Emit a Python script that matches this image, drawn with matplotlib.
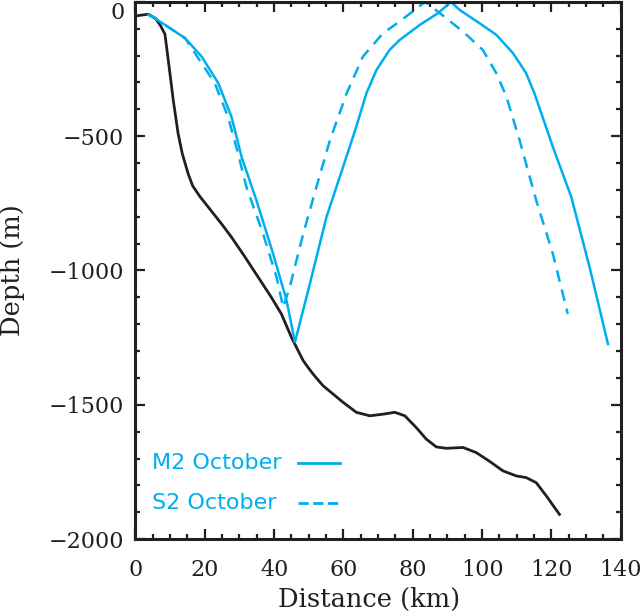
import numpy as np
import matplotlib
matplotlib.use("Agg")
import matplotlib.pyplot as plt
from matplotlib.ticker import MultipleLocator

# bathymetry (distance km, depth m)
bathy_x = [0.3, 3.7, 5.8, 7.2, 8.5, 9.7, 10.9, 12.3, 13.5, 15.2, 16.5, 18.6,
           21.0, 24.8, 27.7, 31.6, 35.4, 39.2, 42.1, 45.0, 46.9, 48.4, 49.8,
           51.2, 54.1, 57.0, 59.9, 63.7, 67.6, 71.4, 74.8, 77.7, 81.0, 83.9,
           86.8, 89.7, 94.5, 98.3, 102.2, 106.0, 109.9, 112.7, 115.6, 118.5, 122.3]
bathy_y = [-52, -46, -62, -88, -120, -241, -366, -490, -565, -640, -685, -725,
           -764, -826, -876, -950, -1025, -1100, -1162, -1249, -1298, -1336, -1361,
           -1385, -1429, -1460, -1491, -1528, -1541, -1535, -1528, -1541, -1585, -1628,
           -1657, -1662, -1659, -1678, -1711, -1746, -1765, -1771, -1790, -1839, -1908]

# M2 October ray path
m2_x = [3.7, 5.6, 14.3, 19.1, 23.9, 27.7, 30.6, 34.9, 39.7, 43.6, 46.0,
        50.3, 55.1, 59.9, 63.7, 66.6, 69.5, 73.3, 76.2, 82.0, 87.3, 91.0,
        93.5, 99.3, 104.1, 108.9, 112.7, 115.1, 120.4, 125.7, 131.0, 136.3]
m2_y = [-48, -61, -135, -204, -303, -428, -577, -739, -938, -1112, -1267,
        -1050, -801, -614, -465, -341, -254, -179, -142, -86, -42, 0,
        -30, -80, -123, -191, -266, -341, -540, -726, -988, -1274]

# S2 October ray path
s2_x = [3.7, 5.6, 14.3, 19.1, 22.9, 26.7, 29.6, 32.0, 36.8, 40.7, 42.6,
        44.5, 48.4, 52.2, 56.1, 60.9, 65.6, 71.4, 76.2, 83.6,
        87.8, 94.5, 100.2, 104.1, 107.0, 110.8, 115.6, 120.4, 124.7]
s2_y = [-48, -61, -135, -229, -303, -428, -565, -689, -863, -1025, -1137,
        -1062, -863, -689, -515, -341, -204, -117, -73, 0,
        -42, -111, -179, -266, -353, -515, -739, -938, -1162]

cyan = "#00aeef"
black = "#231f20"
dash = (0, (4.7, 3.2))

fig = plt.figure(figsize=(6.42, 6.14), dpi=100)
ax = fig.add_axes([0.211, 0.122, 0.756, 0.875])

ax.plot(bathy_x, bathy_y, color=black, lw=2.0)
m2_line, = ax.plot(m2_x, m2_y, color=cyan, lw=1.8, label="M2 October")
s2_line, = ax.plot(s2_x, s2_y, color=cyan, lw=1.8, ls=dash, label="S2 October")

ax.set_xlim(0, 140)
ax.set_ylim(-2000, 0)
ax.xaxis.set_major_locator(MultipleLocator(20))
ax.xaxis.set_minor_locator(MultipleLocator(5))
ax.yaxis.set_major_locator(MultipleLocator(500))
ax.yaxis.set_minor_locator(MultipleLocator(100))

for s in ax.spines.values():
    s.set_linewidth(2.2)
    s.set_color(black)
ax.tick_params(which="both", direction="in", top=True, right=True,
               width=1.6, color=black)
ax.tick_params(which="major", length=7, labelsize=16)
ax.tick_params(axis="y", which="major", pad=8)
ax.tick_params(axis="x", which="major", pad=14)
ax.tick_params(which="minor", length=3.5)
for lab in ax.get_xticklabels() + ax.get_yticklabels():
    lab.set_family("DejaVu Serif")
    lab.set_color(black)

ax.set_xlabel("Distance (km)", family="DejaVu Serif", fontsize=18.5, color=black)
ax.set_ylabel("Depth (m)", family="DejaVu Serif", fontsize=18.5, color=black)
ax.xaxis.set_label_coords(0.481, -0.089)
ax.yaxis.set_label_coords(-0.228, 0.5)

fig.canvas.draw()
for t in ax.yaxis.get_major_ticks():
    if abs(t.get_loc()) < 1e-6:
        t.label1.set_verticalalignment("top")

# legend: label text first, line sample to its right
for line, ypos in [(m2_line, 0.1415), (s2_line, 0.067)]:
    ax.text(0.034, ypos, line.get_label(), transform=ax.transAxes,
            color=cyan, fontsize=16, family="DejaVu Sans", va="center")
    ax.plot([0.335, 0.421], [ypos, ypos], transform=ax.transAxes,
            color=cyan, lw=2.0, ls=line.get_linestyle())

fig.savefig("out.png", dpi=100)
